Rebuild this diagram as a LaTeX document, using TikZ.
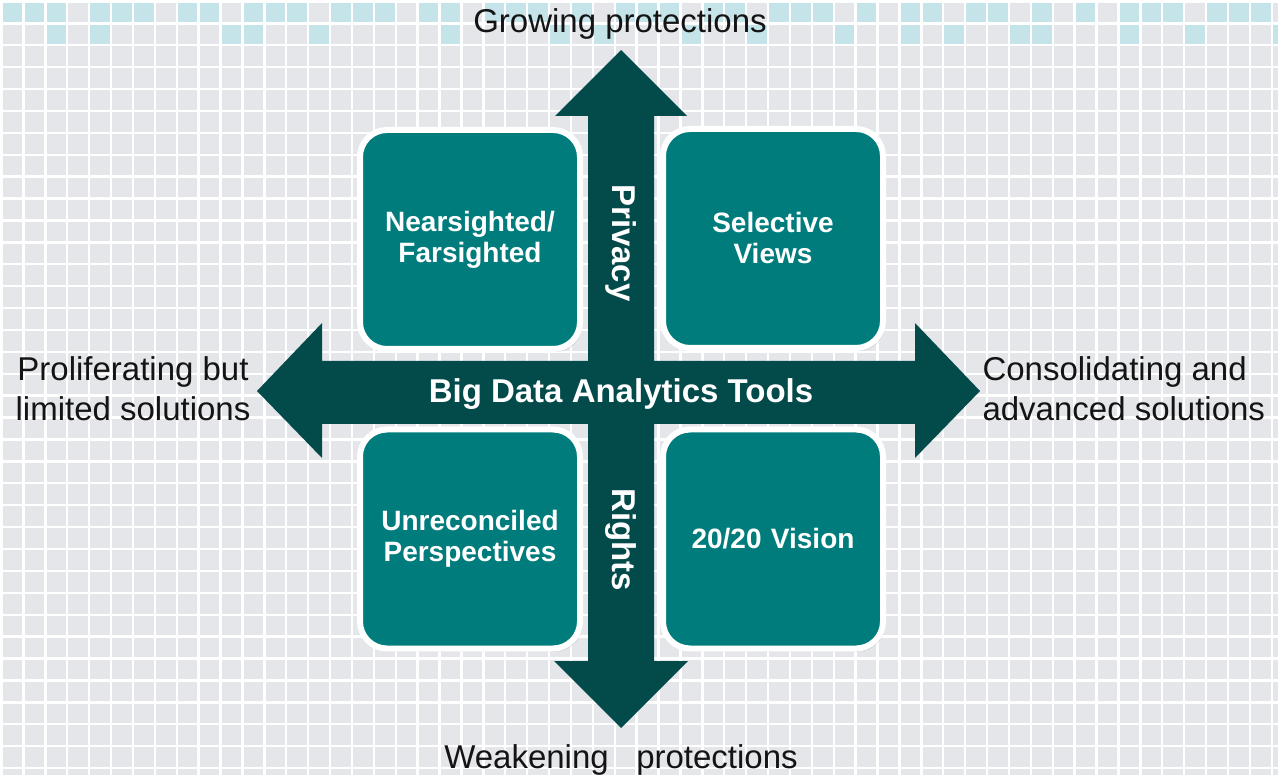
\documentclass[tikz,border=0pt]{standalone}
\usepackage{fontspec}
\setmainfont{Liberation Sans}
\usetikzlibrary{shadows}
\definecolor{tealbox}{RGB}{0,124,124}
\definecolor{tealdark}{RGB}{3,74,75}
\definecolor{tilegray}{RGB}{228,230,233}
\definecolor{tilecyan}{RGB}{196,228,233}
\begin{document}
\begin{tikzpicture}[x=1pt, y=-1pt,
    quad/.style={draw=white, line width=6pt, fill=tealbox, rounded corners=27pt,
        minimum width=220pt, minimum height=219pt, text width=200pt, align=center,
        text=white, font=\fontsize{28}{31}\selectfont\bfseries,
        drop shadow={shadow xshift=2pt, shadow yshift=-3pt, opacity=0.3}},
    axis/.style={text=white, font=\fontsize{33}{38}\selectfont\bfseries},
    pole/.style={text=black!92, align=center, font=\fontsize{33}{40}\selectfont}]
    \useasboundingbox (0,0) rectangle (1278,775);
    % tiled backdrop
    \fill[tilegray] (0,0) rectangle (1278,775);
    \foreach \c/\r in {0/0,1/0,2/0,4/0,5/0,6/0,8/0,9/0,11/0,12/0,13/0,15/0,16/0,17/0,
        19/0,20/0,22/0,23/0,24/0,26/0,28/0,29/0,30/0,32/0,33/0,35/0,36/0,37/0,39/0,
        41/0,42/0,44/0,45/0,47/0,49/0,51/0,52/0,53/0,55/0,56/0,57/0,
        2/1,4/1,10/1,11/1,14/1,20/1,25/1,27/1,31/1,34/1,38/1,41/1,43/1,46/1,47/1,51/1,54/1,58/1}
        \fill[tilecyan] ({1.5+21.9*\c},{1.5+21.9*\r}) rectangle +(21.9,21.9);
    \foreach \i in {0,...,58} \draw[white, line width=2.4pt] ({1.5+21.9*\i},0) -- +(0,775);
    \foreach \i in {0,...,35} \draw[white, line width=2.4pt] (0,{1.5+21.9*\i}) -- +(1278,0);
    % the four-way arrow
    \fill[tealdark] (588,116) -- (555,116) -- (621,50) -- (687,116) -- (654,116)
        -- (654,361) -- (915,361) -- (915,323) -- (980,391) -- (915,458) -- (915,424)
        -- (654,424) -- (654,661) -- (688,661) -- (621,728) -- (554,661) -- (588,661)
        -- (588,424) -- (322,424) -- (322,458) -- (257,391) -- (322,323) -- (322,361)
        -- (588,361) -- cycle;
    \node[axis] (tools) at (621,394) {Big Data Analytics Tools};
    \node[axis, rotate=-90] (privacy) at (621,243) {Privacy};
    \node[axis, rotate=-90] (rights) at (621,540) {Rights};
    % quadrants
    \node[quad] (nearfar) at (470,239.5) {Nearsighted/\\Farsighted};
    \node[quad] (selective) at (773,238.5) {\raisebox{2pt}{Selective}\\\raisebox{2pt}{Views}};
    \node[quad] (unrec) at (470,539) {Unreconciled\\Perspectives};
    \node[quad] (vision) at (773,539) {20/20 Vision};
    % arrow ends
    \node[pole, anchor=base] (grow) at (620,33) {Growing protections};
    \node[pole, anchor=base] (weak) at (621,768) {Weakening~~ protections};
    \node[pole] (prolif) at (133,389) {Proliferating but\\limited solutions};
    \node[pole, align=left, anchor=west] (consol) at (979,389) {Consolidating and\\advanced solutions};
\end{tikzpicture}
\end{document}
